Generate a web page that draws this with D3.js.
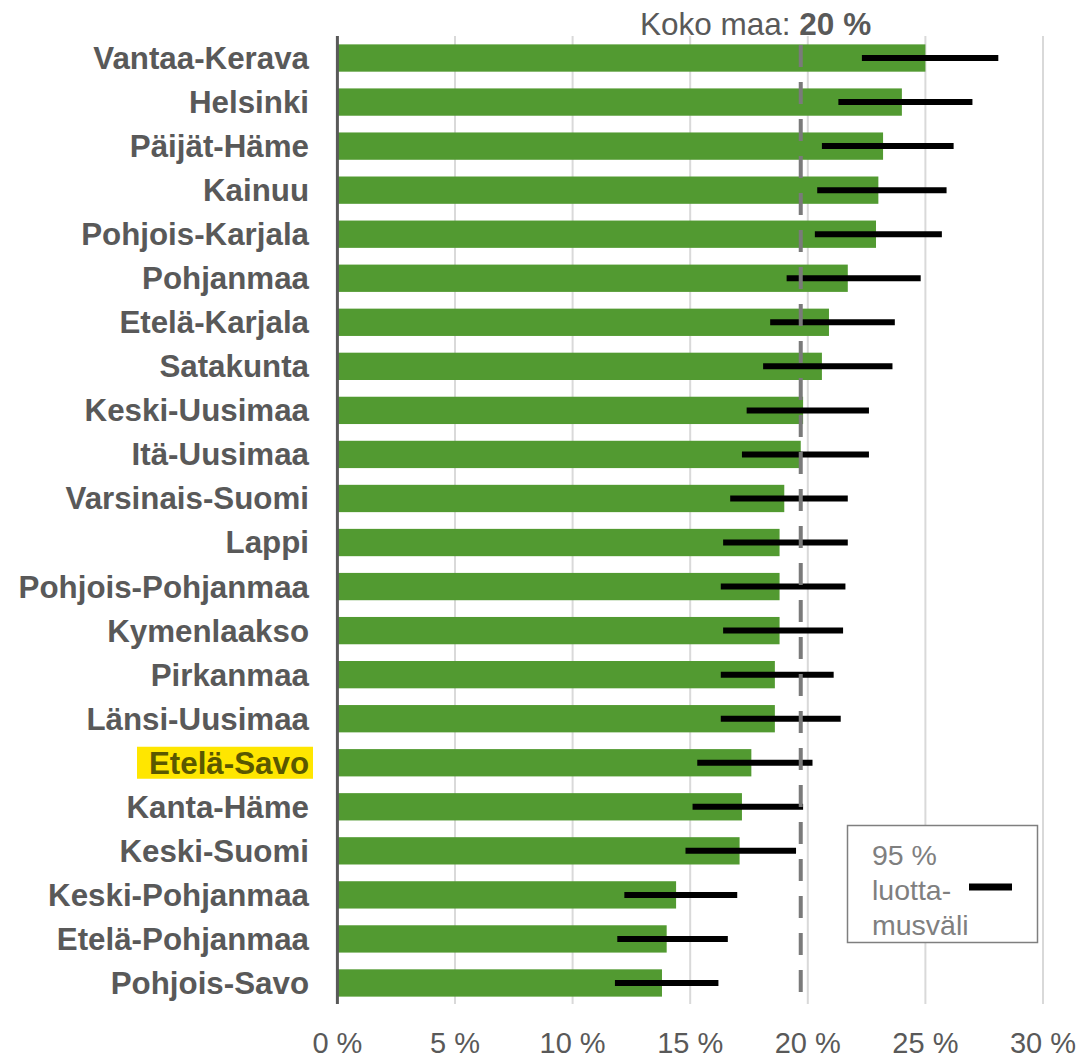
<!DOCTYPE html>
<html>
<head>
<meta charset="utf-8">
<script src="https://cdn.jsdelivr.net/npm/d3@7"></script>
<style>
  html, body { margin: 0; padding: 0; background: #fff; }
  svg { display: block; }
</style>
</head>
<body>
<svg id="chart" width="1084" height="1058"></svg>
<script>
const regions = ["Vantaa-Kerava","Helsinki","Päijät-Häme","Kainuu","Pohjois-Karjala","Pohjanmaa","Etelä-Karjala","Satakunta","Keski-Uusimaa","Itä-Uusimaa","Varsinais-Suomi","Lappi","Pohjois-Pohjanmaa","Kymenlaakso","Pirkanmaa","Länsi-Uusimaa","Etelä-Savo","Kanta-Häme","Keski-Suomi","Keski-Pohjanmaa","Etelä-Pohjanmaa","Pohjois-Savo"];
const values = [25.0, 24.0, 23.2, 23.0, 22.9, 21.7, 20.9, 20.6, 19.8, 19.7, 19.0, 18.8, 18.8, 18.8, 18.6, 18.6, 17.6, 17.2, 17.1, 14.4, 14.0, 13.8];
const ciLow  = [22.3, 21.3, 20.6, 20.4, 20.3, 19.1, 18.4, 18.1, 17.4, 17.2, 16.7, 16.4, 16.3, 16.4, 16.3, 16.3, 15.3, 15.1, 14.8, 12.2, 11.9, 11.8];
const ciHigh = [28.1, 27.0, 26.2, 25.9, 25.7, 24.8, 23.7, 23.6, 22.6, 22.6, 21.7, 21.7, 21.6, 21.5, 21.1, 21.4, 20.2, 19.8, 19.5, 17.0, 16.6, 16.2];
const nationalValue = 19.7;
const nationalLabel = "20 %";
const xTicks = [0, 5, 10, 15, 20, 25, 30];
const highlighted = "Etelä-Savo";
const legendLines = ["95 %", "luotta-", "musväli"];

const svg = d3.select("#chart");
const x = d3.scaleLinear().domain([0, 30]).range([337.4, 1043]);
const y = d3.scaleBand().domain(regions).range([36, 1005]).paddingInner(0.38).paddingOuter(0.19);
const yTop = 36, yBot = 1004;

// gridlines
svg.append("g").selectAll("line").data(xTicks.slice(1)).join("line")
  .attr("x1", d => x(d)).attr("x2", d => x(d))
  .attr("y1", yTop).attr("y2", yBot)
  .attr("stroke", "#d9d9d9").attr("stroke-width", 2);

// bars
svg.append("g").selectAll("rect").data(regions).join("rect")
  .attr("x", x(0)).attr("y", d => y(d))
  .attr("width", (d, i) => x(values[i]) - x(0))
  .attr("height", y.bandwidth())
  .attr("fill", "#529a31");

// error bars
svg.append("g").selectAll("line").data(regions).join("line")
  .attr("x1", (d, i) => x(ciLow[i])).attr("x2", (d, i) => x(ciHigh[i]))
  .attr("y1", d => y(d) + y.bandwidth() / 2).attr("y2", d => y(d) + y.bandwidth() / 2)
  .attr("stroke", "#000").attr("stroke-width", 6);

// national dashed line
svg.append("line")
  .attr("x1", x(nationalValue)).attr("x2", x(nationalValue))
  .attr("y1", 45).attr("y2", 1006)
  .attr("stroke", "#7a7a7a").attr("stroke-width", 4)
  .attr("stroke-dasharray", "22 15");

// axis line
svg.append("line")
  .attr("x1", x(0)).attr("x2", x(0)).attr("y1", yTop).attr("y2", yBot)
  .attr("stroke", "#595959").attr("stroke-width", 3);

// highlight
const hy = y(highlighted) + y.bandwidth() / 2;
svg.append("rect").attr("x", 137).attr("y", hy - 16).attr("width", 176).attr("height", 32)
  .attr("fill", "#ffe600");

// category labels
svg.append("g").selectAll("text").data(regions).join("text")
  .attr("x", 309).attr("y", d => y(d) + y.bandwidth() / 2)
  .attr("dy", "0.35em")
  .attr("text-anchor", "end")
  .attr("font-family", "'Liberation Sans', Arial, sans-serif")
  .attr("font-weight", "bold").attr("font-size", 31.3)
  .attr("fill", d => d === highlighted ? "#5a5800" : "#595959")
  .text(d => d);

// x tick labels
svg.append("g").selectAll("text").data(xTicks).join("text")
  .attr("x", d => x(d)).attr("y", 1053)
  .attr("text-anchor", "middle")
  .attr("font-family", "'Liberation Sans', Arial, sans-serif")
  .attr("font-size", 29).attr("fill", "#595959")
  .text(d => d + " %");

// national label
const nt = svg.append("text").attr("x", 640).attr("y", 35)
  .attr("font-family", "'Liberation Sans', Arial, sans-serif")
  .attr("font-size", 31.5).attr("fill", "#595959");
nt.append("tspan").text("Koko maa: ");
nt.append("tspan").attr("font-weight", "bold").text(nationalLabel);

// legend
svg.append("rect").attr("x", 847.5).attr("y", 825.5).attr("width", 190).attr("height", 117)
  .attr("fill", "#fff").attr("stroke", "#7f7f7f").attr("stroke-width", 1.5);
svg.append("g").selectAll("text").data(legendLines).join("text")
  .attr("x", 872).attr("y", (d, i) => 865 + i * 35)
  .attr("font-family", "'Liberation Sans', Arial, sans-serif")
  .attr("font-size", 28.5).attr("fill", "#7f7f7f")
  .text(d => d);
svg.append("line").attr("x1", 969).attr("x2", 1012).attr("y1", 887).attr("y2", 887)
  .attr("stroke", "#000").attr("stroke-width", 7);
</script>
</body>
</html>
